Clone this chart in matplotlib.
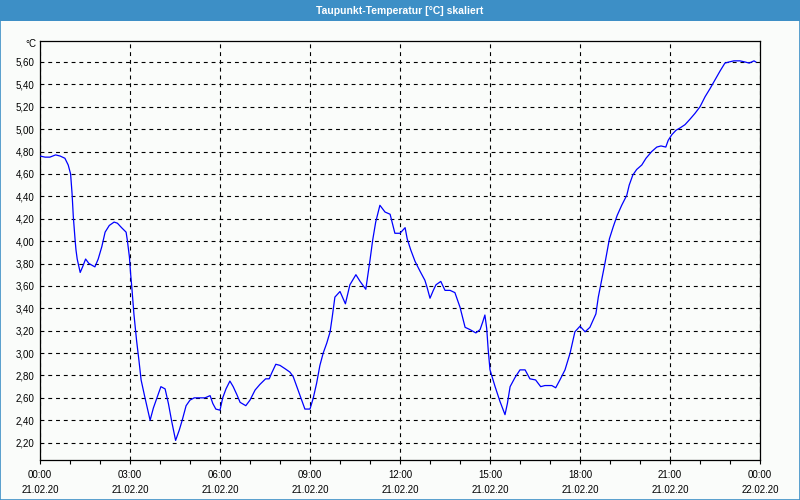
import numpy as np
import pandas as pd
import matplotlib
matplotlib.use('Agg')
import matplotlib.pyplot as plt
import matplotlib.dates as mdates
from matplotlib.ticker import FuncFormatter, FixedLocator
from matplotlib.patches import Rectangle

# Taupunkt values: hours after 21.02.20 00:00, value in degC
hours = [0.00, 0.17, 0.33, 0.52, 0.67, 0.83, 0.94, 1.02, 1.07, 1.11,
         1.17, 1.20, 1.24, 1.29, 1.34, 1.42, 1.52, 1.63, 1.83, 1.94,
         2.06, 2.17, 2.31, 2.47, 2.58, 2.72, 2.87, 2.91, 2.98, 3.02,
         3.06, 3.13, 3.22, 3.30, 3.37, 3.50, 3.67, 3.78, 3.91, 4.03,
         4.17, 4.28, 4.39, 4.52, 4.64, 4.74, 4.87, 5.00, 5.14, 5.50,
         5.67, 5.76, 5.86, 6.00, 6.09, 6.20, 6.33, 6.44, 6.56, 6.67,
         6.86, 7.00, 7.17, 7.33, 7.52, 7.64, 7.72, 7.86, 8.00, 8.17,
         8.33, 8.44, 8.56, 8.69, 8.83, 9.00, 9.11, 9.22, 9.33, 9.44,
         9.56, 9.67, 9.74, 9.83, 10.00, 10.18, 10.26, 10.33, 10.42, 10.53,
         10.67, 10.86, 10.92, 11.00, 11.09, 11.19, 11.33, 11.50, 11.67, 11.83,
         12.00, 12.17, 12.24, 12.36, 12.50, 12.67, 12.83, 12.91, 13.00, 13.11,
         13.20, 13.36, 13.50, 13.67, 13.83, 14.00, 14.17, 14.33, 14.53, 14.67,
         14.76, 14.83, 14.89, 14.94, 15.00, 15.17, 15.33, 15.50, 15.58, 15.67,
         15.83, 16.00, 16.17, 16.33, 16.52, 16.69, 16.83, 17.06, 17.19, 17.33,
         17.50, 17.67, 17.83, 18.00, 18.17, 18.33, 18.53, 18.61, 18.72, 18.83,
         18.98, 19.11, 19.24, 19.39, 19.56, 19.64, 19.76, 19.89, 20.06, 20.20,
         20.39, 20.56, 20.70, 20.86, 20.94, 21.06, 21.20, 21.33, 21.50, 21.67,
         21.83, 22.00, 22.17, 22.33, 22.50, 22.67, 22.83, 22.97, 23.13, 23.33,
         23.50, 23.64, 23.72, 23.80, 23.86]
taupunkt = [4.76, 4.75, 4.75, 4.77, 4.76, 4.74, 4.68, 4.60, 4.42, 4.22,
            4.01, 3.92, 3.84, 3.78, 3.72, 3.77, 3.84, 3.80, 3.77, 3.84,
            3.95, 4.08, 4.14, 4.17, 4.16, 4.12, 4.08, 4.01, 3.86, 3.71,
            3.59, 3.35, 3.11, 2.93, 2.76, 2.60, 2.40, 2.51, 2.61, 2.70,
            2.68, 2.55, 2.39, 2.22, 2.31, 2.40, 2.53, 2.58, 2.60, 2.60,
            2.62, 2.55, 2.50, 2.49, 2.60, 2.68, 2.75, 2.70, 2.63, 2.56,
            2.53, 2.58, 2.67, 2.72, 2.77, 2.77, 2.82, 2.90, 2.89, 2.86,
            2.83, 2.79, 2.70, 2.60, 2.50, 2.50, 2.60, 2.73, 2.89, 3.00,
            3.09, 3.19, 3.32, 3.50, 3.55, 3.44, 3.53, 3.61, 3.65, 3.70,
            3.64, 3.57, 3.68, 3.83, 4.01, 4.17, 4.32, 4.26, 4.24, 4.07,
            4.07, 4.12, 4.02, 3.92, 3.82, 3.73, 3.65, 3.58, 3.49, 3.56,
            3.61, 3.64, 3.56, 3.56, 3.54, 3.41, 3.23, 3.21, 3.18, 3.21,
            3.28, 3.34, 3.22, 3.03, 2.85, 2.70, 2.57, 2.45, 2.55, 2.70,
            2.78, 2.85, 2.85, 2.77, 2.76, 2.70, 2.71, 2.71, 2.69, 2.76,
            2.85, 3.00, 3.19, 3.24, 3.19, 3.23, 3.35, 3.50, 3.65, 3.80,
            4.02, 4.13, 4.23, 4.32, 4.41, 4.50, 4.59, 4.64, 4.68, 4.74,
            4.80, 4.84, 4.85, 4.84, 4.90, 4.95, 4.99, 5.01, 5.04, 5.09,
            5.14, 5.20, 5.29, 5.36, 5.44, 5.52, 5.59, 5.60, 5.61, 5.61,
            5.60, 5.59, 5.60, 5.61, 5.60]

y_ticks = [2.20, 2.40, 2.60, 2.80, 3.00, 3.20, 3.40, 3.60, 3.80, 4.00,
           4.20, 4.40, 4.60, 4.80, 5.00, 5.20, 5.40, 5.60]

start = pd.Timestamp('2020-02-21 00:00')
end = pd.Timestamp('2020-02-22 00:00')
times = start + pd.to_timedelta(hours, unit='h')

bg = '#fafcfa'
bar = '#3d8fc6'
plt.rcParams['font.family'] = ['Liberation Sans', 'DejaVu Sans']

fig = plt.figure(figsize=(8, 5), dpi=100, facecolor=bg)

# title bar and frame
fig.patches.append(Rectangle((0, 1 - 21 / 500), 1, 21 / 500, transform=fig.transFigure,
                             facecolor=bar, edgecolor='none', zorder=0))
fig.patches.append(Rectangle((0.0006, 0.001), 0.9988, 0.998, transform=fig.transFigure,
                             facecolor='none', edgecolor=bar, lw=1.2, zorder=5))
fig.text(0.5, 1 - 10.5 / 500, 'Taupunkt-Temperatur [°C] skaliert', color='white',
         ha='center', va='center', fontsize=7.5, fontweight='bold')

ax = fig.add_axes([0.05, 0.08, 0.90, 0.8386])
ax.set_facecolor(bg)
ax.plot(times, taupunkt, color='#0000ff', lw=0.9, zorder=3)

ax.set_xlim(start, end)
ax.set_ylim(2.045, 5.79)

ax.xaxis.set_major_locator(mdates.HourLocator(byhour=range(0, 24, 3)))
ax.xaxis.set_minor_locator(mdates.HourLocator())
ax.xaxis.set_major_formatter(mdates.DateFormatter('%H:%M\n%d.%m.%y'))
ax.yaxis.set_major_locator(FixedLocator(y_ticks))
ax.yaxis.set_major_formatter(FuncFormatter(lambda v, p: f'{v:.2f}'.replace('.', ',')))

ax.tick_params(axis='x', which='both', direction='out', length=3, width=0.8,
               labelsize=7, pad=4, colors='black')
ax.tick_params(axis='y', length=0, labelsize=7, pad=4)
for lab in ax.get_xticklabels():
    lab.set_linespacing(1.6)

ax.grid(True, which='major', color='black', lw=0.8, ls=(0, (3.5, 3.5)))
for s in ax.spines.values():
    s.set_linewidth(0.9)
    s.set_color('black')

fig.text(36 / 800, 1 - 44 / 500, '°C', ha='right', va='center', fontsize=7)

fig.savefig('out.png', dpi=100, facecolor=bg)
